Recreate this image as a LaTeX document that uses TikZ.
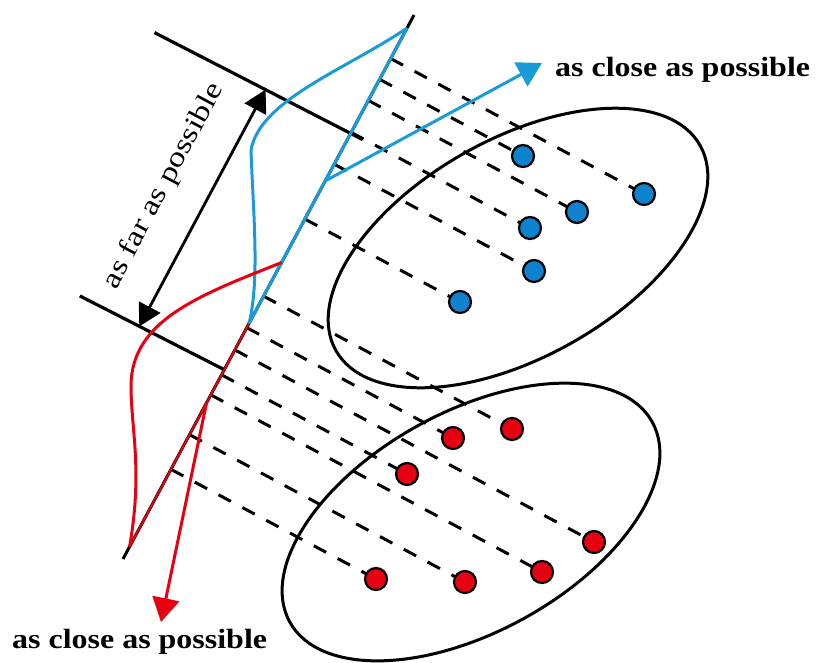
\documentclass[tikz,border=0pt]{standalone}
\usepackage{fontspec}
\setmainfont{Liberation Serif}
\newfontfamily\labelfont[FakeStretch=1.15]{Liberation Serif Bold}
\newfontfamily\farfont[FakeStretch=1.2]{Liberation Serif}
\usetikzlibrary{arrows.meta,calc}
\definecolor{cblue}{HTML}{1A9BD7}
\definecolor{cdotblue}{HTML}{0E82CC}
\definecolor{cred}{HTML}{E60012}
\begin{document}
\begin{tikzpicture}[x=1pt,y=-1pt,
  axisline/.style={line width=3pt, black},
  parline/.style={line width=3.2pt, black},
  dashline/.style={line width=3pt, black, dash pattern=on 14pt off 13pt},
  bluecurve/.style={line width=3pt, cblue},
  redcurve/.style={line width=3pt, cred},
  bdot/.style={circle, draw=black, line width=2.2pt, fill=cdotblue, minimum size=22pt, inner sep=0pt},
  rdot/.style={circle, draw=black, line width=2.2pt, fill=cred, minimum size=22pt, inner sep=0pt},
  clust/.style={line width=3pt, black},
  bigtip/.style={-{Triangle[length=24pt,width=27pt]}},
  lbl/.style={font=\labelfont\fontsize{27.8}{30}\selectfont, inner sep=0pt, text=black},
  farlbl/.style={font=\farfont\fontsize{28}{30}\selectfont, inner sep=0pt, text=black},
]
\useasboundingbox (0,0) rectangle (816,662);

% projection axis
\coordinate (A) at (123,559);
\coordinate (B) at (414,15);
\coordinate (M) at ($(A)!0.433!(B)$);
\coordinate (T) at ($(A)!0.976!(B)$);
\coordinate (R) at ($(A)!0.0225!(B)$);
\coordinate (S) at ($(A)!0.545!(B)$);
\coordinate (barr0) at ($(A)!0.695!(B)$);
\coordinate (rarr0) at ($(A)!0.287!(B)$);
\coordinate (U) at ($(A)!0.783!(B)$);
\coordinate (L) at ($(A)!0.348!(B)$);

% clusters
\draw[clust, rotate around={29.4:(518,248)}] (518,248) ellipse [x radius=209, y radius=109];
\draw[clust, rotate around={28.9:(471,522)}] (471,522) ellipse [x radius=207, y radius=110];

% data point positions
\coordinate (pb1) at (523,156);
\coordinate (pb2) at (644,194);
\coordinate (pb3) at (577,212);
\coordinate (pb4) at (530,228);
\coordinate (pb5) at (534,271);
\coordinate (pb6) at (460,302);
\coordinate (pr1) at (512,429);
\coordinate (pr2) at (453,438);
\coordinate (pr3) at (407,474);
\coordinate (pr4) at (594,542);
\coordinate (pr5) at (542,572);
\coordinate (pr6) at (465,582);
\coordinate (pr7) at (376,579);

% projections
\foreach \p in {b1,b2,b3,b4,b5,b6,r1,r2,r3,r4,r5,r6,r7}{
  \coordinate (f\p) at ($(A)!(p\p)!(B)$);
  \draw[dashline] (f\p) -- (p\p);
}

% parallel lines
\coordinate (up0) at (154.5,32.6);
\coordinate (up1) at (362.5,139.5);
\coordinate (lo0) at (79.8,295.9);
\draw[parline] (up0) -- (up1);
\draw[parline] (lo0) -- (L);

% axis
\draw[axisline] (A) -- (B);
\draw[line width=3pt, cblue] (M) -- (T);
\draw[line width=2pt, cred] (R) -- (M);

% distributions
\draw[bluecurve] (T) .. controls (345,70) and (260,100) .. (251,150) .. controls (253,210) and (260,280) .. (M);
\draw[redcurve] (S) .. controls (200,295) and (132,320) .. (131,385) .. controls (131,430) and (143,470) .. (R);

% arrows
\coordinate (barr1) at (542,63);
\coordinate (rarr1) at (161,622);
\draw[bluecurve, bigtip] (barr0) -- (barr1);
\draw[redcurve, bigtip] (rarr0) -- (rarr1);

\coordinate (fartop) at (265.6,89.7);
\coordinate (farbot) at (139.3,326.5);
\draw[line width=2.8pt, {Triangle[length=22pt,width=24pt]}-{Triangle[length=22pt,width=24pt]}] (farbot) -- (fartop);

% points
\foreach \p in {b1,b2,b3,b4,b5,b6}{ \node[bdot] (\p) at (p\p) {}; }
\foreach \p in {r1,r2,r3,r4,r5,r6,r7}{ \node[rdot] (\p) at (p\p) {}; }

% labels
\node[lbl, anchor=base west] (closeb) at (555,76) {as close as possible};
\node[lbl, anchor=base west] (closer) at (12,648) {as close as possible};
\node[farlbl, rotate=62] (far) at (164,186) {as far as possible};
\end{tikzpicture}
\end{document}
